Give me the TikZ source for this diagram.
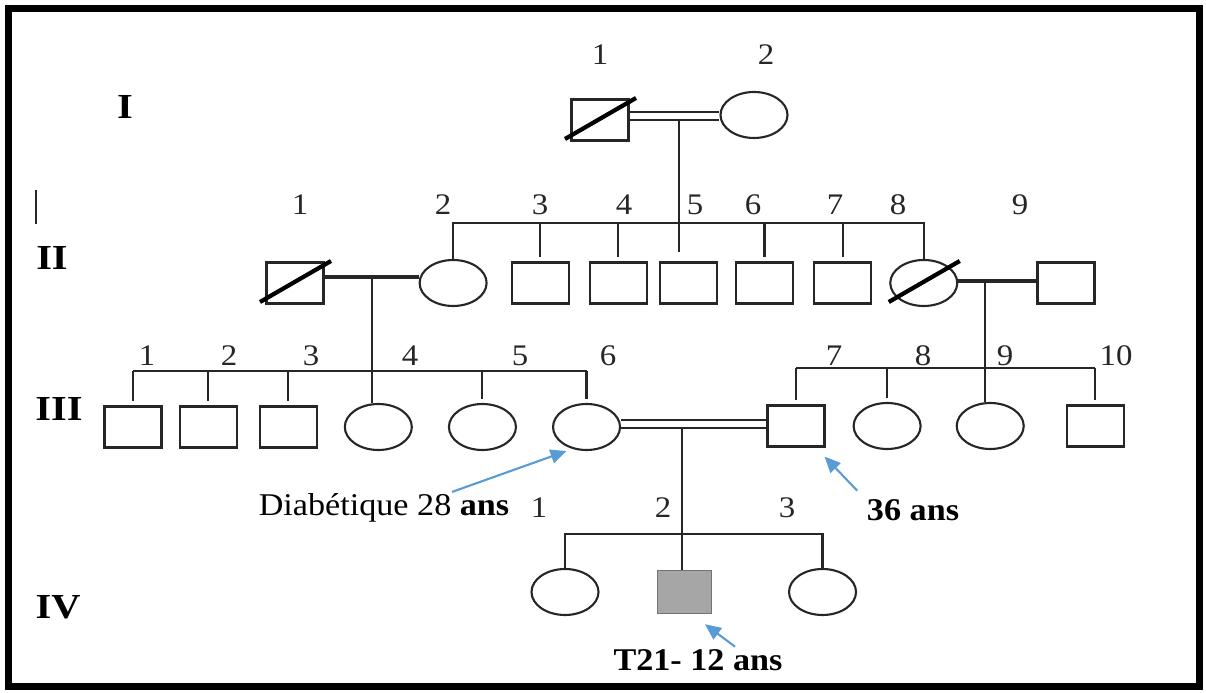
\documentclass[tikz,border=0pt]{standalone}
\usepackage{fontspec}
\setmainfont{Liberation Serif}
\usetikzlibrary{shapes.geometric, arrows.meta, positioning, calc}
\definecolor{inkdark}{HTML}{262626}
\definecolor{arrowblue}{HTML}{5B9BD5}
\definecolor{affectgrey}{HTML}{A6A6A6}

\begin{document}
\begin{tikzpicture}[
    x=0.1mm, y=-0.1mm,
    male/.style={
        rectangle, draw=inkdark, line width=0.6pt,
        minimum width=5.7mm, minimum height=4.1mm,
        inner sep=0pt
    },
    female/.style={
        ellipse, draw=inkdark, line width=0.6pt,
        minimum width=6.7mm, minimum height=4.6mm,
        inner sep=0pt
    },
    affected/.style={
        male,
        fill=affectgrey,
        draw=black!55, line width=0.4pt,
        minimum width=5.4mm, minimum height=4.3mm
    },
    link/.style={draw=inkdark, line width=0.6pt},
    couple/.style={draw=inkdark, line width=1pt},
    consang/.style={draw=inkdark, line width=0.7pt, double=white, double distance=0.55mm},
    deadmark/.style={draw=black, line width=1.2pt},
    num/.style={font=\fontsize{8.5}{10}\selectfont, text=inkdark, inner sep=0pt, xscale=1.1},
    gen/.style={font=\fontsize{10}{12}\selectfont\bfseries, inner sep=0pt, xscale=1.15},
    note/.style={font=\fontsize{9}{11}\selectfont, inner sep=0pt, xscale=1.08},
    pointer/.style={
        -{Triangle[length=1.6mm, width=1.4mm]},
        draw=arrowblue, line width=0.6pt
    }
]

\useasboundingbox (0,0) rectangle (1206,693);

% ==========================================
% FRAME
% ==========================================

\draw[line width=0.7mm] (8.5,8.5) rectangle (1199.5,686.5);
\draw[link] (36,190) -- (36,224);

% ==========================================
% GENERATION LABELS
% ==========================================

\node[gen] (gI) at (125,107) {I};
\node[gen] (gII) at (52,258) {II};
\node[gen] (gIII) at (59,409) {III};
\node[gen] (gIV) at (58,607) {IV};

% ==========================================
% INDIVIDUALS
% ==========================================

% generation I
\node[male] (i1) at (600,120) {};
\node[female] (i2) at (754,115) {};

% generation II
\node[male] (ii1) at (295,283) {};
\node[female, right=9.4mm of ii1] (ii2) {};
\node[male, right=2.3mm of ii2] (ii3) {};
\node[male, right=1.9mm of ii3] (ii4) {};
\node[male, right=1.1mm of ii4] (ii5) {};
\node[male, right=1.7mm of ii5] (ii6) {};
\node[male, right=1.9mm of ii6] (ii7) {};
\node[female, right=1.7mm of ii7] (ii8) {};
\node[male] (ii9) at (1066,283) {};

% generation III
\node[male] (iii1) at (133,427) {};
\node[male, right=1.6mm of iii1] (iii2) {};
\node[male, right=2.1mm of iii2] (iii3) {};
\node[female, right=2.6mm of iii3] (iii4) {};
\node[female, right=3.5mm of iii4] (iii5) {};
\node[female, right=3.5mm of iii5] (iii6) {};
\node[male] (iii7) at (796,426) {};
\node[female, right=2.7mm of iii7] (iii8) {};
\node[female, right=3.4mm of iii8] (iii9) {};
\node[male, right=4.1mm of iii9] (iii10) {};

% generation IV
\node[female] (iv1) at (565,592) {};
\node[affected, right=5.7mm of iv1] (iv2) {};
\node[female, right=7.6mm of iv2] (iv3) {};

% deceased
\foreach \n in {i1,ii1,ii8}
    \draw[deadmark] ($(\n.center)+(-35,19)$) -- ($(\n.center)+(36,-22)$);

% ==========================================
% NUMBERS
% ==========================================

\node[num] (ni1) at (600,55) {1};
\node[num] (ni2) at (766,55) {2};

\foreach \x/\t in {300/1,443/2,540/3,624/4,695/5,753/6,835/7,898/8,1020/9}
    \node[num] (nii\t) at (\x,205) {\t};

\foreach \x/\t in {147/1,229/2,311/3,410/4,520/5,608/6,834/7,923/8,1005/9,1116/10}
    \node[num] (niii\t) at (\x,356) {\t};

\foreach \x/\t in {539/1,663/2,787/3}
    \node[num] (niv\t) at (\x,508) {\t};

% ==========================================
% UNIONS AND DESCENT
% ==========================================

% I-1 x I-2 (consanguineous)
\coordinate (c1) at (679,116);
\draw[link, shorten >=0.9mm] (c1) -- (c1 |- ii5.north);
\draw[consang] (i1.east |- c1) -- (i2.west |- c1);

% sibship II
\coordinate (s2) at (0,223);
\draw[link] (ii2.north) -- (ii2.north |- s2) -- (ii8.north |- s2) -- (ii8.north);
\foreach \n in {ii3,ii4,ii6,ii7}
    \draw[link, shorten >=0.4mm] (\n.north |- s2) -- (\n.north);

% II-1 x II-2
\coordinate (c2) at (372,277);
\draw[couple] (ii1.east |- c2) -- (ii2.west |- c2);
\draw[link] (c2) -- (c2 |- iii4.north);

% II-8 x II-9
\coordinate (c3) at (985,281);
\draw[couple] (ii8.east |- c3) -- (ii9.west |- c3);
\draw[link] (c3) -- (c3 |- iii9.north);

% sibship III (left)
\coordinate (s3) at (0,371);
\draw[link] (iii1.north |- s3) -- (iii6.north |- s3);
\foreach \n in {iii1,iii2,iii3,iii5,iii6}
    \draw[link, shorten >=0.4mm] (\n.north |- s3) -- (\n.north);

% sibship III (right)
\coordinate (s4) at (0,368);
\draw[link] (iii7.north |- s4) -- (iii10.north |- s4);
\foreach \n in {iii7,iii8,iii10}
    \draw[link, shorten >=0.4mm] (\n.north |- s4) -- (\n.north);

% III-6 x III-7 (consanguineous)
\coordinate (c4) at (682,424);
\draw[link] (c4) -- (c4 |- iv2.north);
\draw[consang] (iii6.east |- c4) -- (iii7.west |- c4);

% sibship IV
\coordinate (s5) at (0,534);
\draw[link] (iv1.north) -- (iv1.north |- s5) -- (iv3.north |- s5) -- (iv3.north);

% ==========================================
% ANNOTATIONS
% ==========================================

\node[note] (diab) at (384,508) {Diabétique 28 \textbf{ans}};
\draw[pointer] ($(diab.north)+(68,-1)$) -- ($(iii6.south)+(-20,0)$);

\node[note, font=\fontsize{9}{11}\selectfont\bfseries] (age36) at (913,510) {36 ans};
\draw[pointer] ($(age36.north west)+(-9,-8)$) -- ($(iii7.south east)+(-1,9)$);

\node[note, font=\fontsize{9}{11}\selectfont\bfseries] (t21) at (698,660) {T21- 12 ans};
\draw[pointer] ($(t21.north)+(37,-2)$) -- ($(iv2.south east)+(-7,10)$);

\end{tikzpicture}
\end{document}
